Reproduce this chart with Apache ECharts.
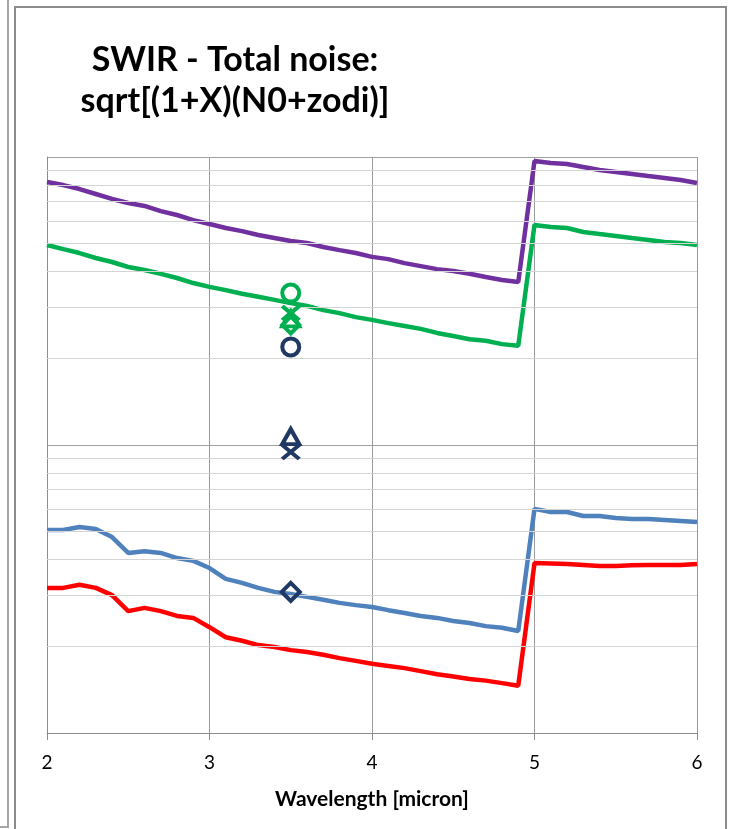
<!DOCTYPE html>
<html>
<head>
<meta charset="utf-8">
<script src="https://cdn.jsdelivr.net/npm/echarts@6/dist/echarts.min.js"></script>
<style>
  html, body { margin: 0; padding: 0; background: #fff; }
  #main { width: 732px; height: 829px; }
</style>
</head>
<body>
<div id="main"></div>
<script>
// wavelength grid [micron]
var wavelength = [2.0, 2.1, 2.2, 2.3, 2.4, 2.5, 2.6, 2.7, 2.8, 2.9,
                  3.0, 3.1, 3.2, 3.3, 3.4, 3.5, 3.6, 3.7, 3.8, 3.9,
                  4.0, 4.1, 4.2, 4.3, 4.4, 4.5, 4.6, 4.7, 4.8, 4.9,
                  5.0, 5.1, 5.2, 5.3, 5.4, 5.5, 5.6, 5.7, 5.8, 5.9, 6.0];

// total noise curves (log axis, arbitrary units)
var noisePurple = [81.9, 79.9, 77.4, 74.4, 71.5, 69.2, 67.6, 64.9, 62.9, 60.4,
                   58.5, 56.7, 55.3, 53.6, 52.3, 51.1, 50.3, 48.7, 47.5, 46.4,
                   45.0, 44.2, 42.8, 41.8, 40.8, 40.2, 39.3, 38.3, 37.4, 36.8,
                   96.8, 95.3, 94.6, 92.3, 90.1, 88.7, 87.3, 85.9, 84.6, 83.2, 81.2];
var noiseGreen = [49.5, 47.9, 46.4, 44.6, 43.2, 41.5, 40.5, 39.3, 38.0, 36.5,
                  35.4, 34.5, 33.5, 32.7, 31.9, 31.1, 30.4, 29.4, 28.7, 27.8,
                  27.2, 26.5, 25.9, 25.3, 24.5, 23.9, 23.3, 23.0, 22.4, 22.1,
                  58.1, 57.1, 56.7, 54.9, 54.0, 53.2, 52.3, 51.5, 50.7, 50.3, 49.5];
var noiseBlue = [5.07, 5.07, 5.19, 5.11, 4.79, 4.22, 4.28, 4.22, 4.05, 3.96,
                 3.74, 3.43, 3.32, 3.19, 3.09, 3.04, 2.97, 2.90, 2.83, 2.78,
                 2.74, 2.67, 2.61, 2.55, 2.51, 2.45, 2.41, 2.35, 2.32, 2.26,
                 6.00, 5.85, 5.85, 5.67, 5.67, 5.58, 5.53, 5.53, 5.49, 5.45, 5.40];
var noiseRed = [3.19, 3.19, 3.27, 3.19, 3.01, 2.65, 2.72, 2.65, 2.55, 2.51,
                2.33, 2.15, 2.09, 2.02, 1.99, 1.94, 1.91, 1.87, 1.82, 1.78,
                1.74, 1.71, 1.68, 1.64, 1.60, 1.57, 1.54, 1.52, 1.49, 1.46,
                3.89, 3.88, 3.86, 3.83, 3.80, 3.80, 3.82, 3.83, 3.83, 3.83, 3.86];

// single measured points at 3.5 micron
var markerX = 3.5;
var greenCircle = 33.7, greenCross = 28.7, greenTriangle = 27.4, greenDiamond = 26.1;
var navyCircle = 21.9, navyTriangle = 10.7, navyCross = 9.46, navyDiamond = 3.09;

// minor log grid lines
var minorGrid = [2, 3, 4, 5, 6, 7, 8, 9, 20, 30, 40, 50, 60, 70, 80, 90];

var GREEN = '#00B050', NAVY = '#1F3864';
var CROSS = 'path://M0,0L10,8M10,0L0,8';

function pairs(ys) {
  let out = [];
  for (let i = 0; i < wavelength.length; i++) out.push([wavelength[i], ys[i]]);
  return out;
}

function lineSeries(ys, color) {
  return {
    type: 'line', data: pairs(ys), showSymbol: false, symbol: 'none', z: 3,
    lineStyle: { color: color, width: 4.5 }, animation: false
  };
}

function marker(value, symbol, size, color) {
  return {
    type: 'scatter', data: [[markerX, value]], symbol: symbol, symbolSize: size, z: 5,
    itemStyle: { color: 'rgba(0,0,0,0)', borderColor: color, borderWidth: 4, opacity: 1 },
    animation: false
  };
}

var chart = echarts.init(document.getElementById('main'));
var option = {
  backgroundColor: '#fff',
  animation: false,
  title: {
    text: 'SWIR - Total noise:\nsqrt[(1+X)(N0+zodi)]',
    left: 230, top: 35, textAlign: 'center',
    textStyle: { fontFamily: 'Lato', fontSize: 34, fontWeight: 'bold', color: '#000', lineHeight: 41 }
  },
  graphic: [
    { type: 'rect', shape: { x: 15, y: 7, width: 711, height: 840 },
      style: { fill: 'none', stroke: '#8c8c8c', lineWidth: 2 }, silent: true },
    { type: 'polyline', shape: { points: [[8, 0], [8, 827], [0, 827]] },
      style: { fill: 'none', stroke: '#a6a6a6', lineWidth: 2 }, silent: true }
  ],
  grid: { left: 47, right: 35, top: 157, bottom: 96 },
  xAxis: {
    type: 'value', min: 2, max: 6, interval: 1,
    name: 'Wavelength [micron]', nameLocation: 'middle', nameGap: 56,
    nameTextStyle: { fontFamily: 'Lato', fontSize: 21, fontWeight: 'bold', color: '#000' },
    axisLine: { show: true, lineStyle: { color: '#8c8c8c', width: 1 } },
    axisTick: { show: true, length: 7, lineStyle: { color: '#8c8c8c' } },
    axisLabel: { fontFamily: 'Lato', fontSize: 19, color: '#000', margin: 20 },
    splitLine: { show: true, lineStyle: { color: '#9a9a9a', width: 1 } }
  },
  yAxis: {
    type: 'log', logBase: 10, min: 1, max: 100, interval: 1,
    axisLine: { show: true, lineStyle: { color: '#8c8c8c', width: 1 } },
    axisTick: { show: false },
    axisLabel: { show: false },
    splitLine: { show: true, lineStyle: { color: '#a0a0a0', width: 1 } }
  },
  series: [
    {
      type: 'line', data: [], z: 1, silent: true,
      markLine: {
        silent: true, symbol: 'none', animation: false,
        label: { show: false },
        lineStyle: { color: '#d4d4d4', width: 1, type: 'solid' },
        data: minorGrid.map(function (v) { return { yAxis: v }; })
      }
    },
    lineSeries(noisePurple, '#7030A0'),
    lineSeries(noiseGreen, GREEN),
    lineSeries(noiseBlue, '#4F81BD'),
    lineSeries(noiseRed, '#FF0000'),
    marker(greenCircle, 'circle', 17, GREEN),
    marker(greenCross, CROSS, [17, 14], GREEN),
    marker(greenTriangle, 'triangle', [17, 15], GREEN),
    marker(greenDiamond, 'diamond', [17, 17], GREEN),
    marker(navyCircle, 'circle', 17, NAVY),
    marker(navyTriangle, 'triangle', [17, 15], NAVY),
    marker(navyCross, CROSS, [17, 14], NAVY),
    marker(navyDiamond, 'diamond', [18, 18], NAVY)
  ]
};
chart.setOption(option);
</script>
</body>
</html>
